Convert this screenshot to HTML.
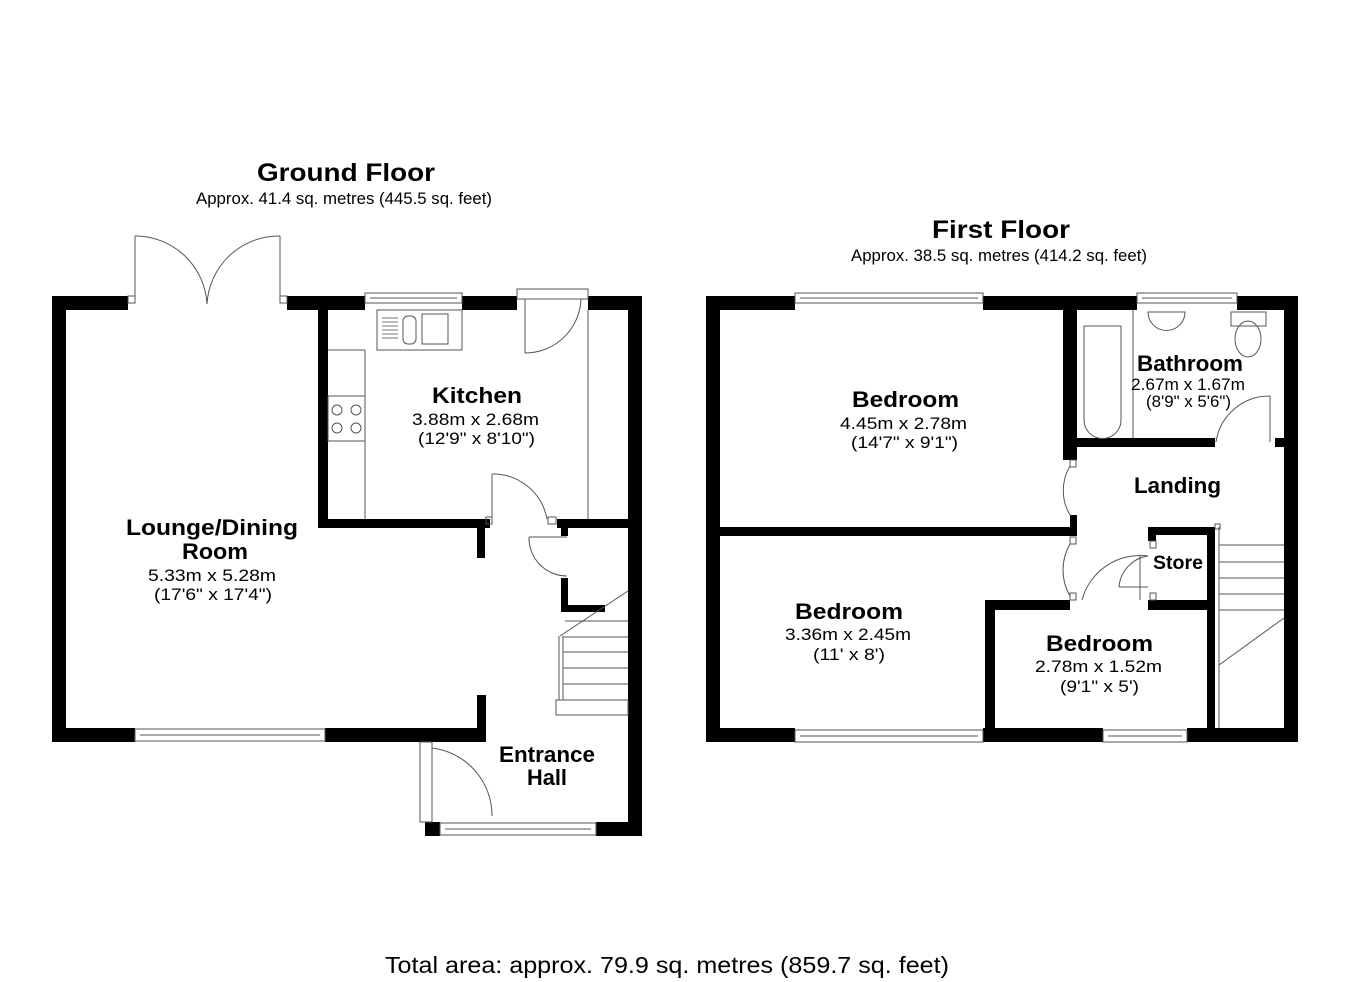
<!DOCTYPE html>
<html><head><meta charset="utf-8"><style>
html,body{margin:0;padding:0;background:#fff;}
svg{display:block;}
text{font-family:"Liberation Sans",Arial,sans-serif;fill:#000;}
.b{font-weight:bold;font-size:22px;}
.s{font-size:16.5px;}
</style></head><body>
<svg width="1350" height="982" viewBox="0 0 1350 982" xmlns="http://www.w3.org/2000/svg">
<g fill="#000">
<rect x="52" y="296" width="14" height="446"/>
<rect x="52" y="296" width="76" height="14"/>
<rect x="287" y="296" width="78" height="14"/>
<rect x="462" y="296" width="55" height="14"/>
<rect x="588" y="296" width="54" height="14"/>
<rect x="628" y="296" width="14" height="540"/>
<rect x="52" y="728" width="83" height="14"/>
<rect x="325" y="728" width="161" height="14"/>
<rect x="477" y="695" width="9" height="47"/>
<rect x="318" y="310" width="10" height="217"/>
<rect x="318" y="519" width="172" height="9"/>
<rect x="477" y="528" width="8" height="30"/>
<rect x="557" y="519" width="71" height="9"/>
<rect x="561" y="528" width="7" height="8"/>
<rect x="561" y="578" width="7" height="34"/>
<rect x="561" y="605" width="44" height="7"/>
<rect x="425" y="822" width="15" height="14"/>
<rect x="596" y="822" width="46" height="14"/>
<rect x="706" y="296" width="14" height="446"/>
<rect x="1284" y="296" width="14" height="446"/>
<rect x="706" y="296" width="89" height="14"/>
<rect x="983" y="296" width="154" height="14"/>
<rect x="1237" y="296" width="61" height="14"/>
<rect x="706" y="728" width="89" height="14"/>
<rect x="983" y="728" width="120" height="14"/>
<rect x="1187" y="728" width="111" height="14"/>
<rect x="720" y="527" width="357" height="9"/>
<rect x="1063" y="310" width="14" height="150"/>
<rect x="1070" y="515" width="7" height="12"/>
<rect x="1068" y="438" width="147" height="9"/>
<rect x="1275" y="438" width="10" height="9"/>
<rect x="985" y="600" width="10" height="142"/>
<rect x="985" y="600" width="85" height="10"/>
<rect x="1148" y="527" width="67" height="8"/>
<rect x="1148" y="527" width="8" height="14"/>
<rect x="1148" y="600" width="67" height="10"/>
<rect x="1207" y="527" width="8" height="215"/>
</g>
<g fill="none" stroke="#555" stroke-width="1">
<rect x="135" y="729" width="190" height="12"/><line x1="140" y1="735" x2="320" y2="735"/>
<rect x="365" y="293" width="97" height="10"/><line x1="370" y1="298" x2="457" y2="298"/>
<rect x="440" y="823" width="156" height="12"/><line x1="445" y1="829" x2="591" y2="829"/>
<line x1="135" y1="236" x2="135" y2="300"/><path d="M135 236 A72 72 0 0 1 207 304"/>
<line x1="280" y1="236" x2="280" y2="300"/><path d="M280 236 A72 72 0 0 0 207 304"/>
<rect x="128" y="296" width="7" height="7"/><rect x="280" y="296" width="7" height="7"/>
<rect x="517" y="289" width="71" height="10"/>
<line x1="525" y1="299" x2="525" y2="353"/><path d="M525 353 A56 56 0 0 0 581 299"/>
<line x1="588" y1="310" x2="588" y2="519"/>
<rect x="377" y="310" width="85" height="40"/>
<line x1="365" y1="350" x2="365" y2="519"/>
<line x1="328" y1="350" x2="365" y2="350"/>
<rect x="328" y="396" width="37" height="45"/>
<circle cx="337" cy="410" r="5"/><circle cx="356" cy="410" r="5"/><circle cx="337" cy="428" r="5"/><circle cx="356" cy="428" r="5"/>
<rect x="422" y="314" width="26" height="30"/><rect x="403" y="316" width="13" height="28" rx="5"/>
<g stroke="#777"><line x1="382" y1="318" x2="398" y2="318"/><line x1="382" y1="322" x2="398" y2="322"/><line x1="382" y1="326" x2="398" y2="326"/><line x1="382" y1="330" x2="398" y2="330"/><line x1="382" y1="334" x2="398" y2="334"/><line x1="382" y1="338" x2="398" y2="338"/></g>
<line x1="492" y1="474" x2="492" y2="524"/><path d="M492 474 A55 55 0 0 1 547 519"/>
<rect x="486" y="517" width="6" height="7"/><rect x="548" y="517" width="8" height="7"/>
<line x1="529" y1="537" x2="567" y2="537"/><path d="M529 537 A38 38 0 0 0 567 576"/>
<line x1="628" y1="591" x2="560" y2="636"/>
<line x1="563" y1="636" x2="563" y2="700"/><line x1="559" y1="636" x2="559" y2="700"/>
<line x1="565" y1="621" x2="628" y2="621"/><line x1="563" y1="637" x2="628" y2="637"/>
<line x1="563" y1="652" x2="628" y2="652"/><line x1="563" y1="668" x2="628" y2="668"/>
<line x1="563" y1="684" x2="628" y2="684"/><line x1="556" y1="700" x2="628" y2="700"/>
<rect x="556" y="700" width="72" height="15"/>
<rect x="420" y="742" width="12" height="80"/>
<line x1="432" y1="748" x2="432" y2="816"/><path d="M432 748 A68 68 0 0 1 492 816"/>
<rect x="795" y="293" width="188" height="10"/><line x1="800" y1="298" x2="978" y2="298"/>
<rect x="1137" y="293" width="100" height="10"/><line x1="1142" y1="298" x2="1232" y2="298"/>
<rect x="795" y="730" width="188" height="12"/><line x1="800" y1="736" x2="978" y2="736"/>
<rect x="1103" y="730" width="84" height="12"/><line x1="1108" y1="736" x2="1182" y2="736"/>
<path d="M1084 326 H1121 V420 A18 18 0 0 1 1084 420 Z"/>
<line x1="1133" y1="310" x2="1133" y2="438"/>
<path d="M1148 312 H1185 A18 18 0 0 1 1148 312 Z"/>
<rect x="1231" y="312" width="35" height="14"/><ellipse cx="1248" cy="339" rx="13" ry="18"/>
<line x1="1270" y1="396" x2="1270" y2="442"/><path d="M1270 396 A54 54 0 0 0 1216 442"/>
<path d="M1070 466 A48 48 0 0 0 1070 515"/><rect x="1070" y="460" width="6" height="7"/>
<path d="M1070 544 A52 52 0 0 0 1070 596"/><rect x="1070" y="537" width="6" height="7"/><rect x="1070" y="593" width="6" height="7"/>
<path d="M1082 600 A60 60 0 0 1 1148 556"/>
<rect x="1150" y="541" width="6" height="7"/><rect x="1150" y="593" width="6" height="7"/>
<path d="M1119 587 A34 34 0 0 1 1148 556"/><line x1="1119" y1="587" x2="1148" y2="587"/>
<line x1="1140" y1="556" x2="1140" y2="600"/>
<line x1="1219" y1="527" x2="1219" y2="728"/>
<rect x="1215" y="524" width="5" height="5"/>
<line x1="1219" y1="545" x2="1284" y2="545"/><line x1="1219" y1="562" x2="1284" y2="562"/>
<line x1="1219" y1="578" x2="1284" y2="578"/><line x1="1219" y1="594" x2="1284" y2="594"/>
<line x1="1219" y1="610" x2="1284" y2="610"/>
<line x1="1284" y1="618" x2="1219" y2="665"/>
</g>
<g lengthAdjust="spacingAndGlyphs">
<text x="257" y="181" class="b" style="font-size:25px" textLength="178" lengthAdjust="spacingAndGlyphs">Ground Floor</text>
<text x="196" y="204" class="s" textLength="296" lengthAdjust="spacingAndGlyphs">Approx. 41.4 sq. metres (445.5 sq. feet)</text>
<text x="932" y="238" class="b" style="font-size:25px" textLength="138" lengthAdjust="spacingAndGlyphs">First Floor</text>
<text x="851" y="261" class="s" textLength="296" lengthAdjust="spacingAndGlyphs">Approx. 38.5 sq. metres (414.2 sq. feet)</text>
<text x="432" y="403" class="b" textLength="90" lengthAdjust="spacingAndGlyphs">Kitchen</text>
<text x="412" y="425" class="s" textLength="127" lengthAdjust="spacingAndGlyphs">3.88m x 2.68m</text>
<text x="418" y="444" class="s" textLength="117" lengthAdjust="spacingAndGlyphs">(12'9" x 8'10")</text>
<text x="126" y="535" class="b" textLength="172" lengthAdjust="spacingAndGlyphs">Lounge/Dining</text>
<text x="182" y="559" class="b" textLength="66" lengthAdjust="spacingAndGlyphs">Room</text>
<text x="148" y="581" class="s" textLength="128" lengthAdjust="spacingAndGlyphs">5.33m x 5.28m</text>
<text x="154" y="600" class="s" textLength="118" lengthAdjust="spacingAndGlyphs">(17'6" x 17'4")</text>
<text x="499" y="762" class="b" textLength="96" lengthAdjust="spacingAndGlyphs">Entrance</text>
<text x="527" y="785" class="b" textLength="40" lengthAdjust="spacingAndGlyphs">Hall</text>
<text x="852" y="407" class="b" textLength="107" lengthAdjust="spacingAndGlyphs">Bedroom</text>
<text x="840" y="429" class="s" textLength="127" lengthAdjust="spacingAndGlyphs">4.45m x 2.78m</text>
<text x="851" y="448" class="s" textLength="107" lengthAdjust="spacingAndGlyphs">(14'7" x 9'1")</text>
<text x="1137" y="371" class="b" textLength="106" lengthAdjust="spacingAndGlyphs">Bathroom</text>
<text x="1131" y="390" class="s" textLength="114" lengthAdjust="spacingAndGlyphs">2.67m x 1.67m</text>
<text x="1146" y="407" class="s" textLength="85" lengthAdjust="spacingAndGlyphs">(8'9" x 5'6")</text>
<text x="1134" y="493" class="b" textLength="87" lengthAdjust="spacingAndGlyphs">Landing</text>
<text x="1153" y="569" class="b" style="font-size:19px" textLength="50" lengthAdjust="spacingAndGlyphs">Store</text>
<text x="795" y="619" class="b" textLength="108" lengthAdjust="spacingAndGlyphs">Bedroom</text>
<text x="785" y="640" class="s" textLength="126" lengthAdjust="spacingAndGlyphs">3.36m x 2.45m</text>
<text x="813" y="660" class="s" textLength="72" lengthAdjust="spacingAndGlyphs">(11' x 8')</text>
<text x="1046" y="651" class="b" textLength="107" lengthAdjust="spacingAndGlyphs">Bedroom</text>
<text x="1035" y="672" class="s" textLength="127" lengthAdjust="spacingAndGlyphs">2.78m x 1.52m</text>
<text x="1060" y="692" class="s" textLength="79" lengthAdjust="spacingAndGlyphs">(9'1" x 5')</text>
<text x="385" y="973" style="font-size:23px" textLength="564" lengthAdjust="spacingAndGlyphs">Total area: approx. 79.9 sq. metres (859.7 sq. feet)</text>
</g>
</svg>
</body></html>
